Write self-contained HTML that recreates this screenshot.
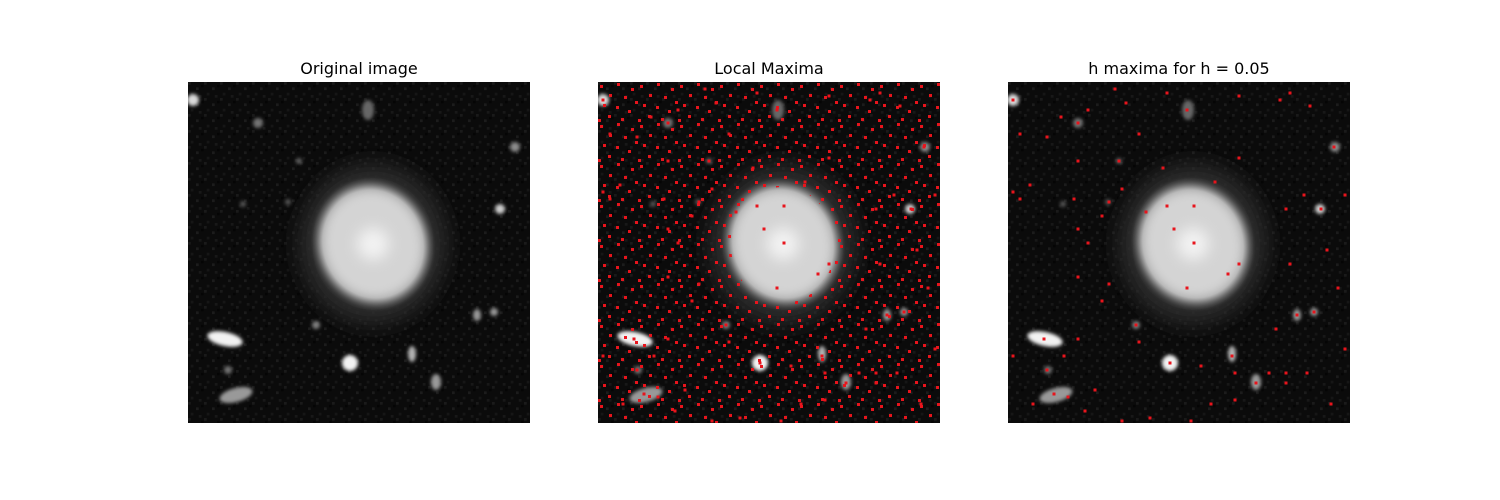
<!DOCTYPE html>
<html><head><meta charset="utf-8">
<style>
html,body{margin:0;padding:0;background:#fff;}
svg{display:block;}
text{font-family:"DejaVu Sans","Liberation Sans",sans-serif;font-size:16px;fill:#000;}
</style></head>
<body>
<svg id="fig" width="1500" height="500" viewBox="0 0 1500 500">
<defs>
  <filter id="blur6" x="-50%" y="-50%" width="200%" height="200%"><feGaussianBlur stdDeviation="7"/></filter>
  <filter id="blur10" x="-50%" y="-50%" width="200%" height="200%"><feGaussianBlur stdDeviation="10"/></filter>
  <filter id="blur2" x="-50%" y="-50%" width="200%" height="200%"><feGaussianBlur stdDeviation="1.8"/></filter>
  <pattern id="noise" width="16" height="16" patternUnits="userSpaceOnUse">
    <rect width="16" height="16" fill="#0b0b0b"/>
    <rect x="0" y="0" width="2.7" height="2.7" fill="#1a1a1a"/>
    <rect x="8" y="5.4" width="2.7" height="2.7" fill="#1c1c1c"/>
    <rect x="2.7" y="10.8" width="2.7" height="2.7" fill="#161616"/>
    <rect x="13" y="2.7" width="2.7" height="2.7" fill="#050505"/>
    <rect x="10.8" y="13" width="2.7" height="2.7" fill="#181818"/>
  </pattern>
  <pattern id="reddots" width="40" height="40" patternUnits="userSpaceOnUse">
    <rect x="2" y="3" width="3" height="3" fill="#e8141c"/>
    <rect x="19" y="1" width="3" height="3" fill="#e8141c"/>
    <rect x="33" y="6" width="3" height="3" fill="#e8141c"/>
    <rect x="11" y="12" width="3" height="3" fill="#e8141c"/>
    <rect x="26" y="14" width="3" height="3" fill="#e8141c"/>
    <rect x="37" y="19" width="3" height="3" fill="#e8141c"/>
    <rect x="5" y="22" width="3" height="3" fill="#e8141c"/>
    <rect x="18" y="24" width="3" height="3" fill="#e8141c"/>
    <rect x="30" y="28" width="3" height="3" fill="#e8141c"/>
    <rect x="10" y="33" width="3" height="3" fill="#e8141c"/>
    <rect x="23" y="36" width="3" height="3" fill="#e8141c"/>
    <rect x="0" y="37" width="3" height="3" fill="#e8141c"/>
  </pattern>
  <radialGradient id="galgrad">
    <stop offset="0" stop-color="#f6f6f6"/>
    <stop offset="0.55" stop-color="#dcdcdc"/>
    <stop offset="0.8" stop-color="#a0a0a0"/>
    <stop offset="1" stop-color="#3a3a3a" stop-opacity="0"/>
  </radialGradient>
  <clipPath id="clip"><rect x="0" y="0" width="342" height="341"/></clipPath>
  <mask id="galmask"><rect width="342" height="341" fill="#fff"/><ellipse cx="185" cy="163" rx="52" ry="58" fill="#000"/></mask>
</defs>
</svg>
<script>
// Blobs in the image (panel pixel coords within 342x341 image): x, y, rx, ry, brightness
const blobX = [185, 5, 37, 48, 162, 224, 248, 312, 327, 180, 70, 289, 306, 128, 40, 111, 55, 100];
const blobY = [162, 18, 257, 313, 281, 272, 300, 127, 65, 28, 41, 233, 230, 243, 288, 79, 122, 120];
const blobRX = [62, 6, 18, 17, 8, 4, 5, 5, 5, 6, 5, 4, 4, 4, 4, 3, 3, 3];
const blobRY = [68, 6, 7, 7, 8, 8, 8, 5, 5, 10, 5, 6, 4, 4, 4, 3, 3, 3];
const blobB = [1, 0.85, 0.95, 0.6, 0.95, 0.7, 0.6, 0.8, 0.55, 0.4, 0.45, 0.6, 0.6, 0.5, 0.45, 0.4, 0.35, 0.35];
// h-maxima detections (panel pixel coords)
const hmaxX = [5,107,159,231,282,272,302,118,80,53,70,179,12,39,131,326,231,70,111,155,207,5,22,12,114,66,101,296,337,138,159,186,278,313,94,70,166,80,186,319,231,282,220,70,101,179,330,94,289,306,128,268,36,70,131,5,56,337,224,162,193,39,227,261,278,299,248,278,46,60,87,25,77,203,227,323,142,183,114];
const hmaxY = [18,7,11,14,11,18,24,21,28,35,41,28,52,55,52,65,76,79,79,86,100,110,103,117,107,117,120,113,113,130,124,124,127,127,134,147,147,161,161,168,182,182,192,195,202,206,206,219,233,230,243,247,257,257,260,274,274,267,274,281,284,288,291,291,291,291,301,301,312,315,308,322,329,322,318,322,336,339,339];
const titles = ["Original image", "Local Maxima", "h maxima for h = 0.05"];
const panelX = [188, 598, 1008];
const panelY = 82, W = 342, H = 341;
const NS = "http://www.w3.org/2000/svg";
const svg = document.getElementById('fig');
function mk(tag, attrs, parent){ const e=document.createElementNS(NS,tag); for(const k in attrs) e.setAttribute(k,attrs[k]); parent.appendChild(e); return e; }

panelX.forEach((px, p) => {
  const g = mk('g', {transform:`translate(${px},${panelY})`, 'clip-path':'url(#clip)'}, svg);
  
  
  const bg = mk('rect', {x:0,y:0,width:W,height:H,fill:'url(#noise)'}, g);
  
  
  blobX.forEach((bx, i) => {
    const v = Math.round(255*blobB[i]);
    let e;
    if (i === 0) {
      mk('ellipse', {cx:bx, cy:blobY[i], rx:blobRX[i]+12, ry:blobRY[i]+12, fill:'#2a2a2a', filter:'url(#blur10)'}, g);
      e = mk('ellipse', {cx:bx, cy:blobY[i], rx:blobRX[i], ry:blobRY[i], fill:'url(#galgrad)', transform:`rotate(-20 ${bx} ${blobY[i]})`}, g);
      mk('ellipse', {cx:bx, cy:blobY[i], rx:blobRX[i]*0.8, ry:blobRY[i]*0.8, fill:'#d4d4d4', filter:'url(#blur6)', transform:`rotate(-20 ${bx} ${blobY[i]})`}, g);
      mk('circle', {cx:bx, cy:blobY[i], r:16, fill:'#f2f2f2', filter:'url(#blur6)'}, g);
    } else {
      e = mk('ellipse', {cx:bx, cy:blobY[i], rx:blobRX[i], ry:blobRY[i], fill:`rgb(${v},${v},${v})`, filter:'url(#blur2)', transform: (i===2||i===3)?`rotate(${i===2?12:-15} ${bx} ${blobY[i]})`:''}, g);
    }
    
    
  });
  if (p === 1) {
    const r = mk('rect', {x:0,y:0,width:W,height:H,fill:'url(#reddots)', mask:'url(#galmask)'}, g);
    
    
  }
  if (p >= 1) {
    hmaxX.forEach((hx, i) => {
      const d = mk('rect', {x:hx-1.5, y:hmaxY[i]-1.5, width:3, height:3, fill:'#e8141c'}, g);
      
      
    });
  }
  const t = mk('text', {x:px+W/2, y:74, 'text-anchor':'middle'}, svg);
  t.textContent = titles[p];
  
  
});
</script>
</body></html>
